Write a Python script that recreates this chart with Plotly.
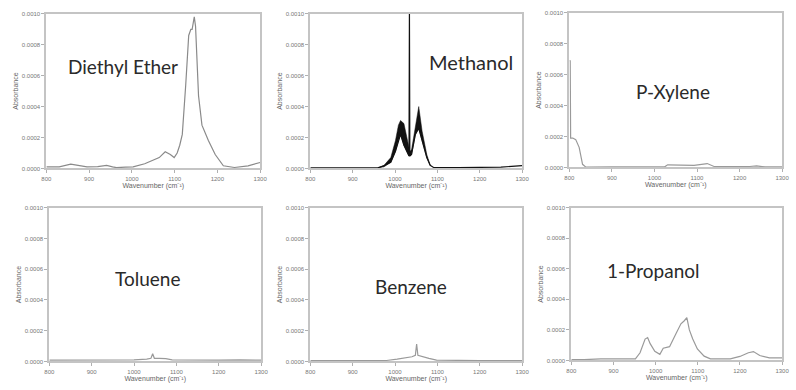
import plotly.graph_objects as go

# ---------------- data ----------------
ether_x = [800, 830, 857, 878, 895, 920, 941, 955, 964, 985, 1003, 1030, 1049, 1064, 1078, 1090, 1099, 1106, 1112, 1118, 1126, 1133, 1138, 1141, 1146, 1149, 1151, 1156, 1164, 1179, 1195, 1214, 1240, 1272, 1300]
ether_y = [0.00001, 0.00001, 0.000028, 0.00002, 0.00001, 0.000012, 0.00002, 0.00001, 0.000005, 0.000008, 0.00001, 0.00003, 0.00005, 0.00007, 0.000108, 0.00009, 0.00007, 0.0001, 0.00015, 0.00022, 0.00054, 0.00086, 0.0009, 0.0009, 0.00098, 0.00092, 0.00079, 0.00047, 0.00028, 0.00018, 0.00009, 0.000017, 0.000006, 0.000017, 0.000038]

meoh_x = [800, 900, 959, 974, 990, 1001, 1013, 1021, 1029, 1033, 1034, 1035, 1039, 1048, 1056, 1064, 1075, 1083, 1091, 1150, 1250, 1300]
meoh_y = [0.000003, 0.000003, 0.000004, 0.000017, 0.00004, 0.00011, 0.00022, 0.00015, 0.0001, 0.00008, 0.00105, 0.00008, 0.00009, 0.00022, 0.00026, 0.00018, 0.00007, 0.00002, 0.000006, 0.000005, 0.000008, 0.000018]
meoh_band_x = [960, 974, 990, 1001, 1008, 1013, 1021, 1029, 1033, 1035, 1039, 1048, 1056, 1064, 1075, 1083]
meoh_band_lo = [0.000004, 0.00001, 0.00004, 0.00011, 0.00018, 0.00022, 0.00015, 0.0001, 0.00008, 0.00008, 0.00009, 0.00022, 0.00026, 0.00018, 0.00007, 0.00002]
meoh_band_hi = [0.000004, 0.00002, 0.00007, 0.00018, 0.00028, 0.00031, 0.00029, 0.00018, 0.00012, 0.00011, 0.00012, 0.00028, 0.0004, 0.00024, 0.00009, 0.00002]

xyl_x = [800, 802, 803, 808, 815, 823, 831, 839, 900, 1000, 1024, 1031, 1062, 1093, 1124, 1140, 1224, 1240, 1260, 1300]
xyl_y = [0.00069, 0.00069, 0.00019, 0.00019, 0.00018, 0.00013, 0.00002, 0.000002, 0.000003, 0.000003, 0.000004, 0.000017, 0.000013, 0.000013, 0.000025, 0.000006, 0.000006, 0.00001, 0.000003, 0.000003]

tol_x = [800, 850, 900, 950, 1000, 1030, 1040, 1044, 1048, 1060, 1075, 1090, 1150, 1200, 1250, 1300]
tol_y = [0.000008, 0.000008, 0.00001, 0.000008, 0.00001, 0.000015, 0.00002, 0.00005, 0.00002, 0.00002, 0.000018, 0.00001, 0.000008, 0.000008, 0.00001, 0.000008]

benz_x = [800, 900, 980, 1005, 1025, 1040, 1048, 1051, 1054, 1065, 1080, 1098, 1150, 1200, 1300]
benz_y = [0.000005, 0.000005, 0.000006, 0.000015, 0.000025, 0.00003, 0.00004, 0.000113, 0.00004, 0.00003, 0.00002, 0.000008, 0.000005, 0.000005, 0.000005]

prop_x = [800, 830, 870, 900, 940, 952, 963, 975, 981, 987, 998, 1010, 1018, 1033, 1049, 1060, 1068, 1074, 1080, 1088, 1099, 1115, 1130, 1177, 1200, 1220, 1232, 1247, 1270, 1300]
prop_y = [0.000005, 0.000005, 0.00001, 0.00001, 0.00001, 0.00001, 0.00005, 0.00014, 0.00015, 0.00011, 0.00006, 0.00004, 0.00008, 0.00009, 0.00018, 0.00024, 0.00026, 0.00028, 0.0002, 0.00014, 0.000075, 0.000028, 0.00001, 0.00001, 0.000026, 0.00005, 0.000058, 0.000032, 0.000017, 0.000017]

names = ["Diethyl Ether", "Methanol", "P-Xylene", "Toluene", "Benzene", "1-Propanol"]
x_ticks = [800, 900, 1000, 1100, 1200, 1300]
y_ticks = [0.0, 0.0002, 0.0004, 0.0006, 0.0008, 0.0010]
x_title = "Wavenumber (cm\u207b\u00b9)"
y_title = "Absorbance"

# ---------------- layout geometry ----------------
W, H = 796, 390
boxes = [  # left, right, top, bottom in px
    (42, 259, 11, 168), (310, 525, 11, 168), (573, 789, 10, 167),
    (45, 260, 208, 364), (310, 525, 208, 364), (575, 789, 208, 363),
]
label_pos = [(120, 64), (473, 60), (678, 90), (145, 280), (412, 288), (658, 272)]
label_size = [19, 20, 19, 19, 19, 19]

fig = go.Figure()
series = [(ether_x, ether_y, "#8a8a8a"), (meoh_x, meoh_y, "#111111"), (xyl_x, xyl_y, "#9a9a9a"),
          (tol_x, tol_y, "#9a9a9a"), (benz_x, benz_y, "#9a9a9a"), (prop_x, prop_y, "#9a9a9a")]

layout = {}
for i, ((l, r, t, b), (sx, sy, col)) in enumerate(zip(boxes, series)):
    n = "" if i == 0 else str(i + 1)
    xa, ya = "x" + n, "y" + n
    if i == 1:
        fig.add_trace(go.Scatter(x=meoh_band_x, y=meoh_band_lo, xaxis=xa, yaxis=ya, mode="lines",
                                 line=dict(color="#111111", width=0.5), showlegend=False))
        fig.add_trace(go.Scatter(x=meoh_band_x, y=meoh_band_hi, xaxis=xa, yaxis=ya, mode="lines",
                                 fill="tonexty", fillcolor="#111111",
                                 line=dict(color="#111111", width=0.5), showlegend=False))
    fig.add_trace(go.Scatter(x=sx, y=sy, xaxis=xa, yaxis=ya, mode="lines",
                             line=dict(color=col, width=1.2), showlegend=False))
    common = dict(showline=True, linecolor="#c4c4c4", linewidth=2, mirror=True, showgrid=False,
                  zeroline=False, ticks="outside", ticklen=3, tickcolor="#b0b0b0",
                  tickfont=dict(size=6, color="#777", family="Liberation Sans"))
    layout["xaxis" + n] = dict(domain=[l / W, r / W], anchor=ya, range=[800, 1300],
                               tickvals=x_ticks, ticktext=[str(v) for v in x_ticks],
                               title=dict(text=x_title, standoff=2,
                                          font=dict(size=7, color="#666", family="Liberation Sans")),
                               **common)
    layout["yaxis" + n] = dict(domain=[1 - b / H, 1 - t / H], anchor=xa, range=[0, 0.0010],
                               tickvals=y_ticks, ticktext=["%.4f" % v for v in y_ticks],
                               title=dict(text=y_title, standoff=2,
                                          font=dict(size=7, color="#666", family="Liberation Sans")),
                               **common)

annotations = []
for name, (px, py), fs in zip(names, label_pos, label_size):
    annotations.append(dict(text=name, x=px / W, y=1 - py / H, xref="paper", yref="paper",
                            showarrow=False, xanchor="center", yanchor="middle",
                            font=dict(size=fs, color="#2a2a2a", family="Lato")))

fig.update_layout(width=W, height=H, margin=dict(l=0, r=0, t=0, b=0),
                  paper_bgcolor="white", plot_bgcolor="white",
                  annotations=annotations, **layout)
fig.write_html("out.html")
